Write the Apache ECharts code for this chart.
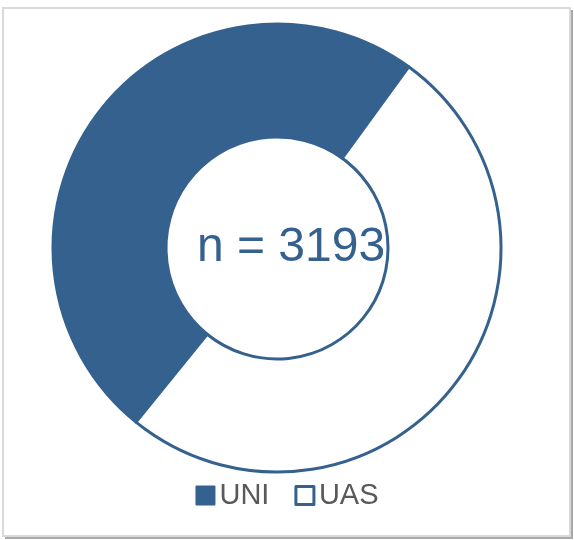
<!DOCTYPE html>
<html>
<head>
<meta charset="utf-8">
<script src="https://cdn.jsdelivr.net/npm/echarts@6/dist/echarts.min.js"></script>
<style>
  html, body { margin: 0; padding: 0; background: #fff; }
  #main { width: 574px; height: 540px; }
</style>
</head>
<body>
<div id="main"></div>
<script>
// data
var categories = ['UNI', 'UAS'];
var counts = [1570, 1623];
var totalLabel = 'n = 3193';

var blue = '#35618f';

var chart = echarts.init(document.getElementById('main'));

var pieData = categories.map(function (name, i) {
  return {
    name: name,
    value: counts[i],
    itemStyle: i === 0
      ? { color: blue, borderColor: blue, borderWidth: 3 }
      : { color: '#ffffff', borderColor: blue, borderWidth: 3 }
  };
});

chart.setOption({
  animation: false,
  graphic: [
    // frame with a little drop shadow, like the exported chart area
    { type: 'rect', z: -10, shape: { x: 5, y: 10, width: 568, height: 529 },
      style: { fill: '#a9a9a9' } },
    { type: 'rect', z: -9, shape: { x: 3, y: 8, width: 567, height: 528 },
      style: { fill: '#ffffff', stroke: '#d9d9d9', lineWidth: 2 } },
    { type: 'text', z: 10, x: 291, y: 248,
      style: { text: totalLabel, fill: blue,
        font: '48px "Liberation Sans", Arial, sans-serif',
        textAlign: 'center', textVerticalAlign: 'middle' } }
  ],
  legend: {
    data: [
      { name: categories[0] },
      { name: categories[1], itemStyle: { color: '#ffffff', borderColor: blue, borderWidth: 3 } }
    ],
    bottom: 25,
    left: 'center',
    icon: 'rect',
    itemWidth: 18,
    itemHeight: 18,
    itemGap: 25,
    textStyle: { color: '#595959', fontSize: 29, fontFamily: '"Liberation Sans", Arial, sans-serif' }
  },
  series: [{
    type: 'pie',
    center: [277, 248],
    radius: [111, 224],
    startAngle: 90 - 219,
    clockwise: true,
    label: { show: false },
    labelLine: { show: false },
    emphasis: { disabled: true },
    data: pieData
  }]
});
</script>
</body>
</html>
